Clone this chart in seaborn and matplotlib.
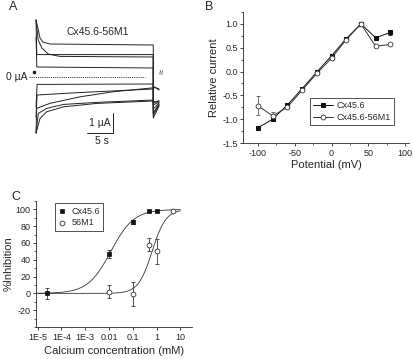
import matplotlib
matplotlib.use('Agg')
import matplotlib.pyplot as plt
from matplotlib.ticker import MultipleLocator, FixedLocator, FixedFormatter, NullLocator
import numpy as np
import pandas as pd
import seaborn as sns

# ---- panel A: current traces (time in s, current in uA) ----
trace_times = [
    [0, 0.43, 0.75, 1.3, 2.6, 22.1, 22.1, 23.2],
    [0, 0.15, 22.1, 22.1, 23.2],
    [0, 0.4, 1.1, 2.3, 4.5, 22.1, 22.1, 23.2],
    [0, 0.15, 22.1, 22.1, 23.2],
    [0, 0.2, 22.1, 22.1, 23.2],
    [0, 0.2, 8.0, 22.1, 22.1, 22.4, 23.2],
    [0, 0.13, 2.6, 8.3, 14.5, 22.1, 22.1, 23.2],
    [0, 0.43, 2.0, 5.2, 11.5, 22.1, 22.1, 23.2],
    [0, 0.25, 0.75, 2.0, 5.2, 11.5, 22.1, 22.1, 23.2],
]
trace_currents = [
    [2.85, 2.35, 1.95, 1.75, 1.65, 1.6, -2.05, -1.45],
    [2.85, 1.12, 1.12, -1.9, -1.4],
    [2.85, 1.85, 1.45, 1.15, 1.03, 1.0, -1.8, -1.35],
    [2.0, 0.5, 0.45, -1.6, -1.3],
    [-1.5, -0.37, -0.35, -1.4, -1.25],
    [-2.0, -0.9, -0.78, -0.6, -0.6, -0.5, -0.65],
    [-2.8, -1.57, -1.32, -0.99, -0.74, -0.54, -0.5, -0.6],
    [-2.8, -1.82, -1.57, -1.37, -1.27, -1.15, -1.3, -1.2],
    [-2.8, -2.57, -2.07, -1.74, -1.49, -1.32, -1.2, -1.25, -1.2],
]
zero_line_t = [-1.3, 20.6]
scale_t = [9.6, 14.6]       # 5 s
scale_i = [-2.8, -1.8]      # 1 uA

# ---- panel B: I-V relation ----
potential = [-100, -80, -60, -40, -20, 0, 20, 40, 60, 80]
cx_rel = [-1.18, -1.0, -0.70, -0.36, -0.01, 0.33, 0.69, 1.0, 0.71, 0.82]
cx_rel_err = [0.03, 0.02, 0.02, 0.02, 0.02, 0.03, 0.02, 0.0, 0.03, 0.06]
m1_rel = [-0.72, -0.93, -0.75, -0.39, -0.04, 0.28, 0.67, 1.0, 0.53, 0.57]
m1_rel_err = [0.2, 0.08, 0.02, 0.02, 0.02, 0.02, 0.02, 0.0, 0.02, 0.02]

# ---- panel C: calcium dose response ----
cx_conc = [2.5e-5, 0.01, 0.1, 0.5, 1.0]
cx_inhib = [0, 47, 85, 98, 98]
cx_inhib_err = [7, 5, 2, 1, 1]
m1_conc = [0.01, 0.1, 0.5, 1.0, 5.0]
m1_inhib = [2, -1, 58, 50, 98]
m1_inhib_err = [8, 14, 8, 15, 1]
# Hill fit parameters
cx_ic50, cx_hill = 0.012, 0.9
m1_ic50, m1_hill = 0.65, 1.5
c_xticks = [1e-5, 1e-4, 1e-3, 0.01, 0.1, 1, 10]
c_xticklabels = ['1E-5', '1E-4', '1E-3', '0.01', '0.1', '1', '10']

sns.set_style('ticks')
plt.rcParams['font.family'] = ['Liberation Sans', 'DejaVu Sans']
plt.rcParams['axes.unicode_minus'] = False
plt.rcParams['axes.linewidth'] = 0.6
plt.rcParams['xtick.major.width'] = 0.6
plt.rcParams['ytick.major.width'] = 0.6
plt.rcParams['xtick.minor.width'] = 0.5
plt.rcParams['ytick.minor.width'] = 0.5
plt.rcParams['xtick.major.size'] = 2.5
plt.rcParams['ytick.major.size'] = 2.5
plt.rcParams['xtick.minor.size'] = 1.5
plt.rcParams['ytick.minor.size'] = 1.5
plt.rcParams['xtick.direction'] = 'out'
plt.rcParams['ytick.direction'] = 'out'

W, H = 414, 359
fig = plt.figure(figsize=(W / 100, H / 100), dpi=100)


def rect(left, top, right, bottom):
    return [left / W, 1 - bottom / H, (right - left) / W, (bottom - top) / H]


# ---------- A ----------
axA = fig.add_axes(rect(0, 12, 175, 150))
for t, cur in zip(trace_times, trace_currents):
    sns.lineplot(x=t, y=cur, ax=axA, color='#222222', lw=0.7,
                 estimator=None, sort=False)
axA.plot(zero_line_t, [0, 0], color='#222222', lw=0.7, ls=(0, (1, 1.2)))
axA.plot([-0.38], [0.25], marker='s', ms=1.8, color='#222222')
axA.plot(scale_t, [scale_i[0]] * 2, color='#222222', lw=0.7)
axA.plot([scale_t[1]] * 2, scale_i, color='#222222', lw=0.7)
axA.text(12.0, -2.3, '1 µA', fontsize=7.5, ha='center', va='center')
axA.text(12.4, -3.2, '5 s', fontsize=7.5, ha='center', va='center')
axA.text(-1.6, 0, '0 µA', fontsize=7.5, ha='right', va='center')
axA.text(11.7, 2.25, 'Cx45.6-56M1', fontsize=7.5, ha='center', va='center')
axA.text(23.9, 0.3, '≈', fontsize=6.5, rotation=90, ha='center', va='center',
         color='#333333')
axA.set_xlim(-6.79, 26.2)
axA.set_ylim(-3.65, 3.25)
axA.axis('off')

# ---------- B ----------
axB = fig.add_axes(rect(243.3, 12, 408.7, 143))
dfB = pd.DataFrame({'Potential': potential * 2,
                    'Relative': cx_rel + m1_rel,
                    'Clone': ['Cx45.6'] * len(potential) + ['Cx45.6-56M1'] * len(potential)})
axB.errorbar(potential, cx_rel, yerr=cx_rel_err, fmt='none', ecolor='#222222',
             elinewidth=0.6, capsize=1.5, capthick=0.6)
axB.errorbar(potential, m1_rel, yerr=m1_rel_err, fmt='none', ecolor='#555555',
             elinewidth=0.6, capsize=1.5, capthick=0.6)
sns.lineplot(data=dfB[dfB.Clone == 'Cx45.6'], x='Potential', y='Relative', ax=axB,
             color='#111111', lw=0.7, marker='s', markersize=3.5,
             markerfacecolor='#111111', markeredgecolor='#111111', label='Cx45.6')
sns.lineplot(data=dfB[dfB.Clone == 'Cx45.6-56M1'], x='Potential', y='Relative', ax=axB,
             color='#333333', lw=0.7, marker='o', markersize=3.5,
             markerfacecolor='white', markeredgecolor='#333333', markeredgewidth=0.6,
             label='Cx45.6-56M1')
axB.set_xlim(-120, 105)
axB.set_ylim(-1.5, 1.25)
axB.xaxis.set_major_locator(FixedLocator([-100, -50, 0, 50, 100]))
axB.xaxis.set_minor_locator(MultipleLocator(25))
axB.yaxis.set_major_locator(FixedLocator([-1.5, -1.0, -0.5, 0.0, 0.5, 1.0]))
axB.yaxis.set_minor_locator(MultipleLocator(0.25))
axB.tick_params(labelsize=6.5, pad=1.5)
axB.set_xlabel('Potential (mV)', fontsize=8, labelpad=1.5)
axB.set_ylabel('Relative current', fontsize=8, labelpad=2)
legB = axB.legend(loc='lower left', bbox_to_anchor=(0.403, 0.137), borderaxespad=0,
                  fontsize=6.5, frameon=True, fancybox=False, handlelength=2.2,
                  handletextpad=0.4, borderpad=0.35, labelspacing=0.3)
legB.get_frame().set_edgecolor('black')
legB.get_frame().set_linewidth(0.6)
sns.despine(ax=axB)

# ---------- C ----------
axC = fig.add_axes(rect(36, 201, 191.7, 327))
xfit = np.logspace(-5, 1, 300)
cx_fit = 100 / (1 + (cx_ic50 / xfit) ** cx_hill)
m1_fit = 100 / (1 + (m1_ic50 / xfit) ** m1_hill)
sns.lineplot(x=xfit, y=cx_fit, ax=axC, color='#333333', lw=0.6)
sns.lineplot(x=xfit, y=m1_fit, ax=axC, color='#333333', lw=0.6)
axC.errorbar(cx_conc, cx_inhib, yerr=cx_inhib_err, fmt='none', ecolor='#333333',
             elinewidth=0.6, capsize=1.5, capthick=0.6)
axC.errorbar(m1_conc, m1_inhib, yerr=m1_inhib_err, fmt='none', ecolor='#333333',
             elinewidth=0.6, capsize=1.5, capthick=0.6)
sns.scatterplot(x=cx_conc, y=cx_inhib, ax=axC, marker='s', s=12, color='#111111',
                edgecolor='#111111', linewidth=0.5, label='Cx45.6', zorder=5)
sns.scatterplot(x=m1_conc, y=m1_inhib, ax=axC, marker='o', s=12, facecolor='white',
                edgecolor='#333333', linewidth=0.6, label='56M1', zorder=5)
axC.set_xscale('log')
axC.set_xlim(8.6e-6, 30)
axC.set_ylim(-40, 110)
axC.xaxis.set_major_locator(FixedLocator(c_xticks))
axC.xaxis.set_major_formatter(FixedFormatter(c_xticklabels))
axC.xaxis.set_minor_locator(NullLocator())
axC.yaxis.set_major_locator(FixedLocator([-20, 0, 20, 40, 60, 80, 100]))
axC.yaxis.set_minor_locator(MultipleLocator(10))
axC.tick_params(labelsize=6.5, pad=1.5)
axC.set_xlabel('Calcium concentration (mM)', fontsize=8, labelpad=3)
axC.set_ylabel('%Inhibition', fontsize=8, labelpad=1)
legC = axC.legend(loc='upper left', bbox_to_anchor=(0.122, 0.984), borderaxespad=0,
                  fontsize=6.5, frameon=True, fancybox=False, handlelength=0.8,
                  handletextpad=0.6, borderpad=0.4, labelspacing=0.3)
legC.get_frame().set_edgecolor('black')
legC.get_frame().set_linewidth(0.6)
sns.despine(ax=axC)

# panel letters
fig.text(13 / W, 1 - 7 / H, 'A', fontsize=9, ha='center', va='center')
fig.text(209 / W, 1 - 7 / H, 'B', fontsize=9, ha='center', va='center')
fig.text(16 / W, 1 - 197 / H, 'C', fontsize=9, ha='center', va='center')

fig.savefig('out.png', dpi=100)
